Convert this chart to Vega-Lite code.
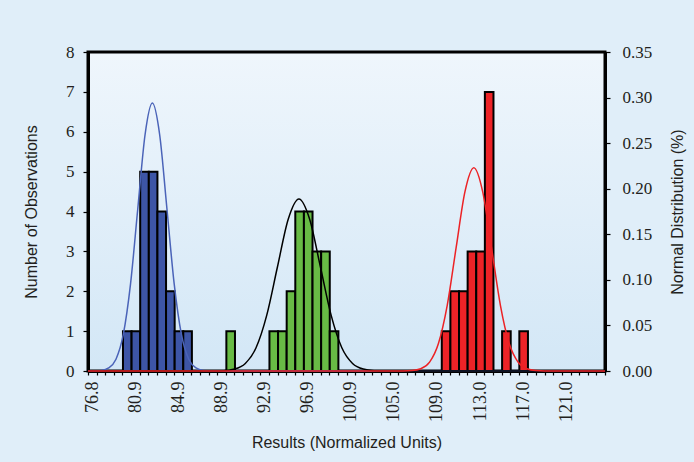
{
  "$schema": "https://vega.github.io/schema/vega-lite/v6.json",
  "width": 517,
  "height": 319,
  "autosize": {"type": "none"},
  "padding": {"left": 88, "top": 52, "right": 89, "bottom": 91},
  "background": "#e0eef9",
  "config": {
    "view": {
      "stroke": "black",
      "strokeWidth": 3,
      "fill": {
        "gradient": "linear",
        "x1": 0, "y1": 0, "x2": 0, "y2": 1,
        "stops": [
          {"offset": 0, "color": "#eff6fc"},
          {"offset": 1, "color": "#d3e7f6"}
        ]
      }
    },
    "axis": {
      "grid": false,
      "domainColor": "black",
      "domainWidth": 3,
      "tickColor": "black",
      "tickWidth": 1.2,
      "tickSize": 5,
      "labelFont": "Liberation Serif",
      "labelFontSize": 17,
      "labelColor": "#231f20",
      "titleFont": "Liberation Sans",
      "titleFontSize": 16,
      "titleFontWeight": "normal",
      "titleColor": "#231f20"
    }
  },
  "datasets": {
    "bars": [
      {"group": "blue", "center": 80.0544, "count": 1},
      {"group": "blue", "center": 80.858, "count": 1},
      {"group": "blue", "center": 81.6616, "count": 5},
      {"group": "blue", "center": 82.4652, "count": 5},
      {"group": "blue", "center": 83.2688, "count": 4},
      {"group": "blue", "center": 84.0724, "count": 2},
      {"group": "blue", "center": 84.876, "count": 1},
      {"group": "blue", "center": 85.6796, "count": 1},
      {"group": "green", "center": 89.6976, "count": 1},
      {"group": "green", "center": 93.7156, "count": 1},
      {"group": "green", "center": 94.5192, "count": 1},
      {"group": "green", "center": 95.3228, "count": 2},
      {"group": "green", "center": 96.1264, "count": 4},
      {"group": "green", "center": 96.93, "count": 4},
      {"group": "green", "center": 97.7336, "count": 3},
      {"group": "green", "center": 98.5372, "count": 3},
      {"group": "green", "center": 99.3408, "count": 1},
      {"group": "red", "center": 109.7876, "count": 1},
      {"group": "red", "center": 110.5912, "count": 2},
      {"group": "red", "center": 111.3948, "count": 2},
      {"group": "red", "center": 112.1984, "count": 3},
      {"group": "red", "center": 113.002, "count": 3},
      {"group": "red", "center": 113.8056, "count": 7},
      {"group": "red", "center": 115.4128, "count": 1},
      {"group": "red", "center": 117.02, "count": 1}
    ],
    "curves": [
      {"group": "blue", "x": 76.438, "density": 0},
      {"group": "blue", "x": 77.012, "density": 0.0001},
      {"group": "blue", "x": 77.69, "density": 0.0006},
      {"group": "blue", "x": 78.369, "density": 0.0033},
      {"group": "blue", "x": 79.048, "density": 0.0129},
      {"group": "blue", "x": 79.726, "density": 0.0398},
      {"group": "blue", "x": 80.405, "density": 0.0955},
      {"group": "blue", "x": 81.083, "density": 0.1783},
      {"group": "blue", "x": 81.762, "density": 0.2595},
      {"group": "blue", "x": 82.44, "density": 0.294},
      {"group": "blue", "x": 83.119, "density": 0.2595},
      {"group": "blue", "x": 83.797, "density": 0.1783},
      {"group": "blue", "x": 84.476, "density": 0.0955},
      {"group": "blue", "x": 85.154, "density": 0.0398},
      {"group": "blue", "x": 85.833, "density": 0.0129},
      {"group": "blue", "x": 86.511, "density": 0.0033},
      {"group": "blue", "x": 87.19, "density": 0.0006},
      {"group": "blue", "x": 87.868, "density": 0.0001},
      {"group": "blue", "x": 124.654, "density": 0},
      {"group": "green", "x": 76.438, "density": 0},
      {"group": "green", "x": 88.11, "density": 0.0001},
      {"group": "green", "x": 89.11, "density": 0.0004},
      {"group": "green", "x": 90.11, "density": 0.0021},
      {"group": "green", "x": 91.11, "density": 0.0083},
      {"group": "green", "x": 92.11, "density": 0.0255},
      {"group": "green", "x": 93.11, "density": 0.0613},
      {"group": "green", "x": 94.11, "density": 0.1144},
      {"group": "green", "x": 95.11, "density": 0.1665},
      {"group": "green", "x": 96.11, "density": 0.1887},
      {"group": "green", "x": 97.11, "density": 0.1665},
      {"group": "green", "x": 98.11, "density": 0.1144},
      {"group": "green", "x": 99.11, "density": 0.0613},
      {"group": "green", "x": 100.11, "density": 0.0255},
      {"group": "green", "x": 101.11, "density": 0.0083},
      {"group": "green", "x": 102.11, "density": 0.0021},
      {"group": "green", "x": 103.11, "density": 0.0004},
      {"group": "green", "x": 104.11, "density": 0.0001},
      {"group": "green", "x": 124.654, "density": 0},
      {"group": "red", "x": 76.438, "density": 0},
      {"group": "red", "x": 105.82, "density": 0.0001},
      {"group": "red", "x": 106.645, "density": 0.0005},
      {"group": "red", "x": 107.47, "density": 0.0025},
      {"group": "red", "x": 108.295, "density": 0.0098},
      {"group": "red", "x": 109.12, "density": 0.0302},
      {"group": "red", "x": 109.945, "density": 0.0724},
      {"group": "red", "x": 110.77, "density": 0.1353},
      {"group": "red", "x": 111.595, "density": 0.1968},
      {"group": "red", "x": 112.42, "density": 0.223},
      {"group": "red", "x": 113.245, "density": 0.1968},
      {"group": "red", "x": 114.07, "density": 0.1353},
      {"group": "red", "x": 114.895, "density": 0.0724},
      {"group": "red", "x": 115.72, "density": 0.0302},
      {"group": "red", "x": 116.545, "density": 0.0098},
      {"group": "red", "x": 117.37, "density": 0.0025},
      {"group": "red", "x": 118.195, "density": 0.0005},
      {"group": "red", "x": 119.02, "density": 0.0001},
      {"group": "red", "x": 124.654, "density": 0}
    ]
  },
  "layer": [
    {
      "data": {"name": "bars"},
      "mark": {"type": "bar", "stroke": "black", "strokeWidth": 2, "binSpacing": 0},
      "encoding": {
        "x": {
          "field": "center",
          "type": "quantitative",
          "bin": {"extent": [76.438, 124.654], "step": 0.8036, "nice": false},
          "scale": {"domain": [76.438, 124.654], "nice": false, "zero": false},
          "axis": null
        },
        "y": {
          "field": "count",
          "type": "quantitative",
          "scale": {"domain": [0, 8], "nice": false},
          "axis": {
            "title": "Number of Observations",
            "values": [0, 1, 2, 3, 4, 5, 6, 7, 8],
            "labelPadding": 9,
            "titlePadding": 26
          }
        },
        "fill": {
          "field": "group",
          "type": "nominal",
          "scale": {"domain": ["blue", "green", "red"], "range": ["#3d55a6", "#68bb45", "#ed2327"]},
          "legend": null
        }
      }
    },
    {
      "data": {"name": "curves"},
      "mark": {"type": "line", "interpolate": "monotone", "strokeWidth": 1.5},
      "encoding": {
        "x": {
          "field": "x",
          "type": "quantitative",
          "scale": {"domain": [76.438, 124.654], "nice": false, "zero": false},
          "axis": {
            "title": "Results (Normalized Units)",
            "titlePadding": 13,
            "values": [76.438, 77.2416, 78.0452, 78.8488, 79.6524, 80.456, 81.2596, 82.0632, 82.8668, 83.6704, 84.474, 85.2776, 86.0812, 86.8848, 87.6884, 88.492, 89.2956, 90.0992, 90.9028, 91.7064, 92.51, 93.3136, 94.1172, 94.9208, 95.7244, 96.528, 97.3316, 98.1352, 98.9388, 99.7424, 100.546, 101.3496, 102.1532, 102.9568, 103.7604, 104.564, 105.3676, 106.1712, 106.9748, 107.7784, 108.582, 109.3856, 110.1892, 110.9928, 111.7964, 112.6, 113.4036, 114.2072, 115.0108, 115.8144, 116.618, 117.4216, 118.2252, 119.0288, 119.8324, 120.636, 121.4396, 122.2432, 123.0468, 123.8504, 124.654, 76.84, 80.858, 84.876, 88.894, 92.912, 96.93, 100.948, 104.966, 108.984, 113.002, 117.02, 121.038],
            "labelExpr": "abs((datum.value - 76.84) / 4.018 - round((datum.value - 76.84) / 4.018)) < 0.01 ? format(datum.value, '.1f') : ''",
            "tickOpacity": {
              "condition": {"test": "abs((datum.value - 76.84) / 4.018 - round((datum.value - 76.84) / 4.018)) < 0.01", "value": 0},
              "value": 1
            },
            "tickSize": 4,
            "labelFontSize": 18,
            "labelAngle": -90,
            "labelAlign": "right",
            "labelBaseline": "middle",
            "labelPadding": 6,
            "labelOverlap": false,
            "labelFlush": false,
            "labelBound": false
          }
        },
        "y": {
          "field": "density",
          "type": "quantitative",
          "scale": {"domain": [0, 0.35], "nice": false},
          "axis": {
            "orient": "right",
            "title": "Normal Distribution (%)",
            "titleAngle": 270,
            "titleBaseline": "top",
            "values": [0, 0.05, 0.1, 0.15, 0.2, 0.25, 0.3, 0.35],
            "format": ".2f",
            "labelPadding": 12,
            "titlePadding": 18
          }
        },
        "stroke": {
          "field": "group",
          "type": "nominal",
          "scale": {"domain": ["blue", "green", "red"], "range": ["#4a63b8", "#000000", "#ec2225"]},
          "legend": null
        }
      }
    }
  ],
  "resolve": {"scale": {"y": "independent"}, "axis": {"x": "independent"}}
}
